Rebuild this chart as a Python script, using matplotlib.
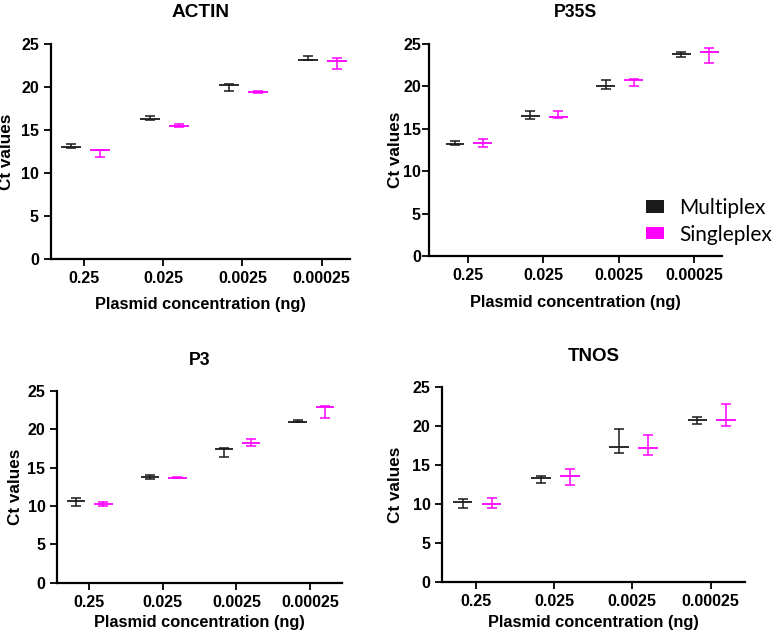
import matplotlib
matplotlib.use("Agg")
import matplotlib.pyplot as plt
from matplotlib.patches import Patch
import numpy as np

plt.rcParams['font.family'] = ['Liberation Sans', 'DejaVu Sans']

categories = ["0.25", "0.025", "0.0025", "0.00025"]
series_names = ["Multiplex", "Singleplex"]
series_colors = ["#1a1a1a", "#ff00ff"]

# ACTIN
actin_multi_mean = [13.05, 16.28, 20.20, 23.16]
actin_multi_lo = [12.95, 16.16, 19.56, 23.10]
actin_multi_hi = [13.40, 16.66, 20.30, 23.55]
actin_single_mean = [12.65, 15.46, 19.37, 23.04]
actin_single_lo = [11.83, 15.35, 19.26, 22.11]
actin_single_hi = [12.70, 15.73, 19.52, 23.39]

# P35S
p35s_multi_mean = [13.21, 16.50, 20.07, 23.76]
p35s_multi_lo = [13.10, 16.19, 19.72, 23.45]
p35s_multi_hi = [13.60, 17.13, 20.74, 24.07]
p35s_single_mean = [13.37, 16.39, 20.75, 24.04]
p35s_single_lo = [12.82, 16.27, 20.04, 22.74]
p35s_single_hi = [13.84, 17.06, 20.85, 24.54]

# P3
p3_multi_mean = [10.61, 13.78, 17.47, 21.00]
p3_multi_lo = [10.00, 13.56, 16.35, 20.95]
p3_multi_hi = [11.00, 14.04, 17.60, 21.21]
p3_single_mean = [10.26, 13.69, 18.25, 22.95]
p3_single_lo = [9.96, 13.65, 17.82, 21.50]
p3_single_hi = [10.56, 13.73, 18.70, 23.05]

# TNOS
tnos_multi_mean = [10.30, 13.30, 17.38, 20.85]
tnos_multi_lo = [9.53, 12.66, 16.56, 20.34]
tnos_multi_hi = [10.64, 13.64, 19.70, 21.16]
tnos_single_mean = [10.04, 13.60, 17.17, 20.85]
tnos_single_lo = [9.44, 12.40, 16.30, 20.08]
tnos_single_hi = [10.81, 14.55, 18.84, 22.91]

# (title, series, box px [left, top, right, bottom], xlim, title size, ylabel x, xlabel y, ytick pad)
panels = [
    ("ACTIN", [(actin_multi_mean, actin_multi_lo, actin_multi_hi),
               (actin_single_mean, actin_single_lo, actin_single_hi)],
     [50.7, 43.7, 350.0, 259.3], (-0.425, 3.36), 13.7, 7, 305, 3.5),
    ("P35S", [(p35s_multi_mean, p35s_multi_lo, p35s_multi_hi),
              (p35s_single_mean, p35s_single_lo, p35s_single_hi)],
     [429.3, 43.7, 722.0, 256.3], (-0.51, 3.37), 12.7, 395, 303, 1.0),
    ("P3", [(p3_multi_mean, p3_multi_lo, p3_multi_hi),
            (p3_single_mean, p3_single_lo, p3_single_hi)],
     [57.3, 391.0, 342.0, 582.7], (-0.425, 3.43), 12.7, 16, 623, 3.5),
    ("TNOS", [(tnos_multi_mean, tnos_multi_lo, tnos_multi_hi),
              (tnos_single_mean, tnos_single_lo, tnos_single_hi)],
     [442.3, 387.3, 745.0, 581.7], (-0.43, 3.44), 13.5, 396, 623, 3.5),
]

W, H = 778, 633
fig = plt.figure(figsize=(W / 100, H / 100), dpi=100)

offsets = [-0.17, 0.20]
half_w = 0.125

for title, series, box, xlim, tsize, ylab_x, xlab_y, ypad in panels:
    l, t, r, b = box
    ax = fig.add_axes([l / W, 1 - b / H, (r - l) / W, (b - t) / H])
    x = np.arange(len(categories))
    for (mean, lo, hi), off, col in zip(series, offsets, series_colors):
        mean = np.array(mean); lo = np.array(lo); hi = np.array(hi)
        xs = x + off
        ax.errorbar(xs, mean, yerr=[mean - lo, hi - mean], fmt='none',
                    ecolor=col, elinewidth=1.1, capsize=3.8, capthick=1.1)
        ax.hlines(mean, xs - half_w, xs + half_w, colors=col, linewidth=1.3)
    ax.set_xlim(*xlim)
    ax.set_ylim(0, 25)
    ax.set_yticks([0, 5, 10, 15, 20, 25])
    ax.set_xticks(x)
    ax.set_xticklabels(categories)
    for s in ['top', 'right']:
        ax.spines[s].set_visible(False)
    for s in ['left', 'bottom']:
        ax.spines[s].set_linewidth(1.6)
    ax.tick_params(axis='both', length=5, width=1.3, labelsize=11.5, pad=3.5)
    ax.tick_params(axis='y', pad=ypad)
    for lab in ax.get_xticklabels() + ax.get_yticklabels():
        lab.set_fontweight('bold')
    ax.set_title(title, fontsize=tsize, fontweight='bold', pad=19)
    ax.set_xlabel("Plasmid concentration (ng)", fontsize=11.8, fontweight='bold')
    ax.set_ylabel("Ct values", fontsize=12.3, fontweight='bold')
    ax.yaxis.label.set_va('center')
    ax.xaxis.label.set_va('center')
    ax.yaxis.set_label_coords((ylab_x - l) / (r - l), 0.5)
    ax.xaxis.set_label_coords(0.5, (b - xlab_y) / (b - t))

handles = [Patch(facecolor=c, edgecolor='none') for c in series_colors]
fig.legend(handles, series_names, loc='upper left',
           bbox_to_anchor=(645.7 / W, 1 - 198 / H), frameon=False,
           prop={'family': 'Lato', 'size': 15},
           handlelength=0.87, handleheight=0.53, handletextpad=0.75,
           labelspacing=0.32, borderaxespad=0, borderpad=0)

fig.savefig("out.png", dpi=100)
